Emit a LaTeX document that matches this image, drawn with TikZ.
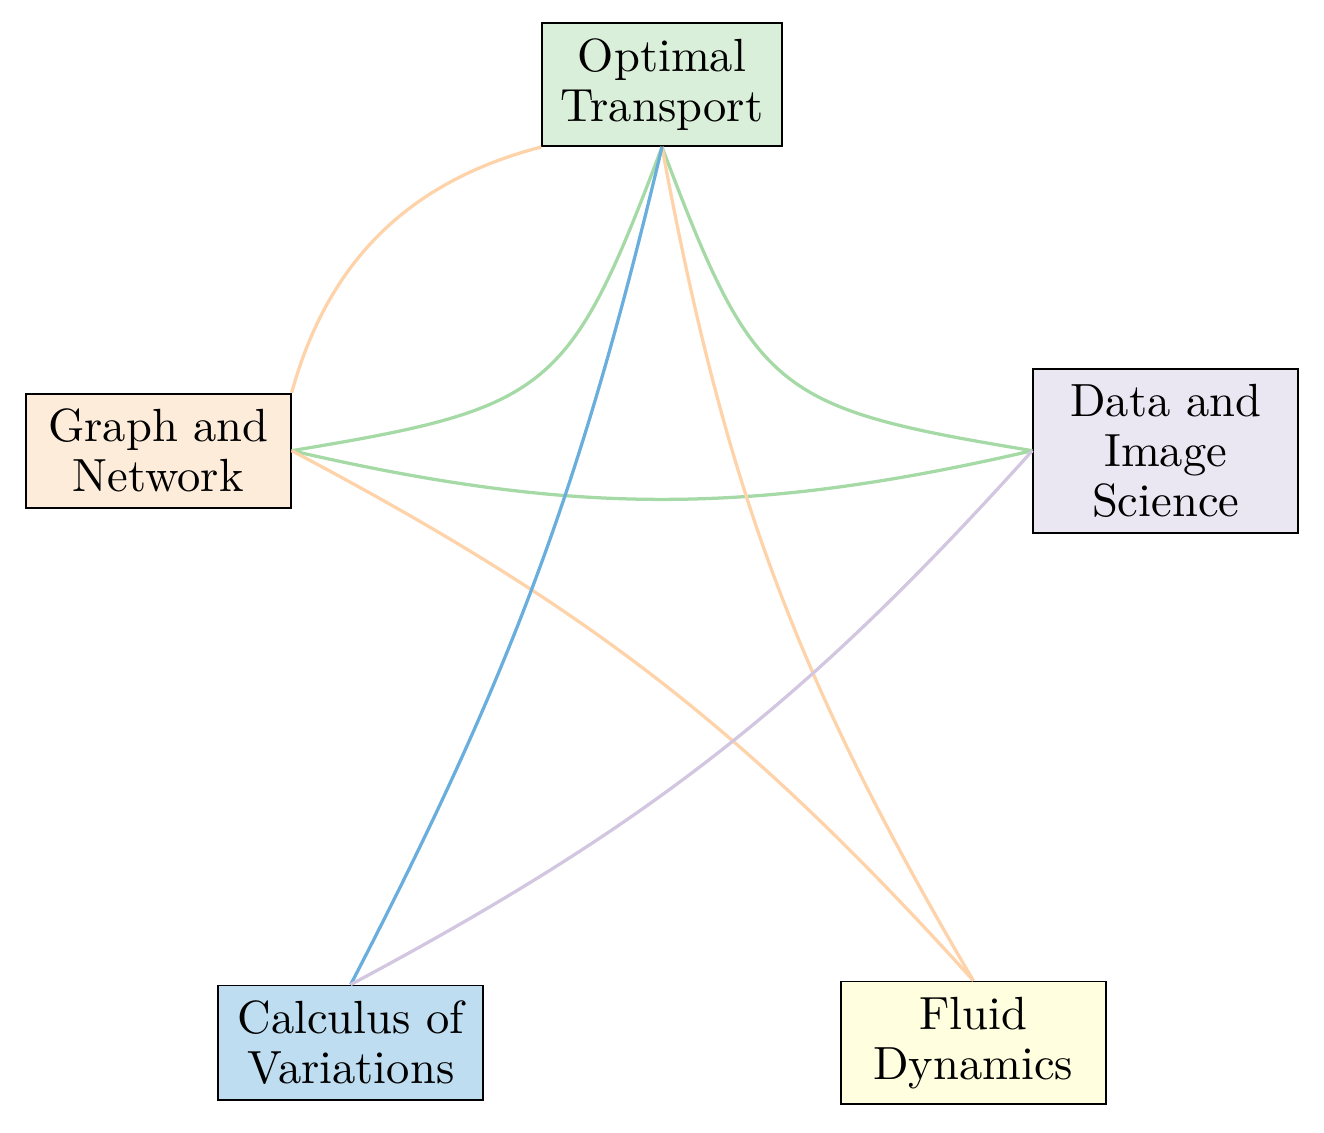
\documentclass[tikz,border=0pt]{standalone}
\usepackage{tikz}
\usepackage{xcolor}
\definecolor{otgreen}{RGB}{127,201,127}
\definecolor{gnorange}{RGB}{253,192,134}
\definecolor{dispurple}{RGB}{190,174,212}
\definecolor{fdyellow}{RGB}{255,255,153}
\definecolor{covblue}{RGB}{40,140,205}
\tikzset{%
  core/.style={draw, align=center, inner xsep=4pt, font=\fontsize{10}{10.7}\selectfont},
  field/.style={core, minimum width=2cm},
  link/.style={line width=0.7pt}
}

\begin{document}
\begin{tikzpicture}
  \useasboundingbox (-5,-3.91) rectangle (5,4.64);
  % research areas on a pentagon
  \node[core, fill=otgreen!30] (ot) at (90:4) {Optimal\\Transport};
  \node[field, fill=gnorange!30] (gn) at (162:4) {Graph and\\Network};
  \node[field, fill=dispurple!30] (dis) at (18:4) {Data and\\Image\\Science};
  \node[field, fill=covblue!30] (cov) at (234:4) {Calculus of\\Variations};
  \node[field, fill=fdyellow!30] (fd) at (306:4) {Fluid\\Dynamics};

  % connections
  \draw[link, otgreen!70] (ot.south) to[bend left=30, looseness=1.4] (gn.east);
  \draw[link, otgreen!70] (ot.south) to[bend right=30, looseness=1.4] (dis.west);
  \draw[link, otgreen!70] (gn.east) to[bend right=13] (dis.west);
  \draw[link, gnorange!70] (gn.north east) to[bend left=30] (ot.south west);
  \draw[link, gnorange!70] (ot.south) to[bend right=10] (fd.north);
  \draw[link, gnorange!70] (gn.east) to[bend left=10] (fd.north);
  \draw[link, covblue!70] (ot.south) to[bend left=7] (cov.north);
  \draw[link, dispurple!70] (dis.west) to[bend left=10] (cov.north);
\end{tikzpicture}
\end{document}
